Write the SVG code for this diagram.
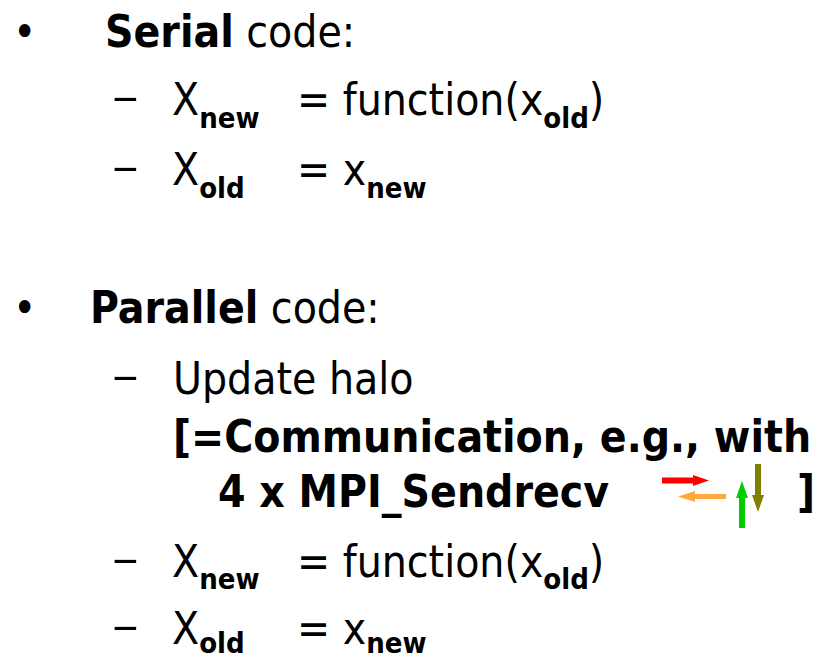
<svg xmlns="http://www.w3.org/2000/svg" width="823" height="660" viewBox="0 0 823 660">
  <style>
    text { font-family: "DejaVu Sans Condensed", "DejaVu Sans", "Liberation Sans", sans-serif; font-stretch: condensed; font-size: 44px; fill: #000; }
    .b { font-weight: bold; }
    .sub { font-size: 29px; font-weight: bold; }
  </style>
  <defs>
    <!-- widened list dash -->
    <text id="dash" transform="scale(1.35 1)">–</text>
  </defs>
  <rect width="823" height="660" fill="#fff"/>

  <!-- Serial code -->
  <g id="serial">
    <text x="13" y="47">•</text>
    <text x="105" y="47"><tspan class="b">Serial</tspan> code:</text>
    <use href="#dash" x="112" y="112"/>
    <text x="172" y="115">X<tspan class="sub" dy="13">new</tspan></text>
    <text x="297" y="115">= function(x<tspan class="sub" dy="13">old</tspan><tspan dy="-13">)</tspan></text>
    <use href="#dash" x="112" y="182"/>
    <text x="172" y="185">X<tspan class="sub" dy="13">old</tspan></text>
    <text x="297" y="185">= x<tspan class="sub" dy="13">new</tspan></text>
  </g>

  <!-- Parallel code -->
  <g id="parallel">
    <text x="13" y="323">•</text>
    <text x="90" y="323"><tspan class="b">Parallel</tspan> code:</text>
    <use href="#dash" x="112" y="391"/>
    <text x="173" y="394">Update halo</text>
    <text class="b" x="173" y="452">[=Communication, e.g., with</text>
    <text class="b" x="218" y="507">4 x MPI_Sendrecv</text>
    <text class="b" x="797" y="507">]</text>
    <use href="#dash" x="112" y="574"/>
    <text x="172" y="577">X<tspan class="sub" dy="12">new</tspan></text>
    <text x="297" y="577">= function(x<tspan class="sub" dy="12">old</tspan><tspan dy="-12">)</tspan></text>
    <use href="#dash" x="112" y="641"/>
    <text x="172" y="644">X<tspan class="sub" dy="9">old</tspan></text>
    <text x="297" y="644">= x<tspan class="sub" dy="9">new</tspan></text>
  </g>

  <!-- halo exchange arrows: right, left, up, down -->
  <g id="arrows">
    <path d="M662,477.5 H693 V475 L709,480.5 L693,486 V483.5 H662 Z" fill="#ff0000"/>
    <path d="M726,494 H695 V491 L678,496.5 L695,502 V499 H726 Z" fill="#ffaa3c"/>
    <path d="M739,528 V498 H736 L742,481 L748,498 H745 V528 Z" fill="#00cc00"/>
    <path d="M755,464 V495 H752 L758,512 L764,495 H761 V464 Z" fill="#808000"/>
  </g>
</svg>
